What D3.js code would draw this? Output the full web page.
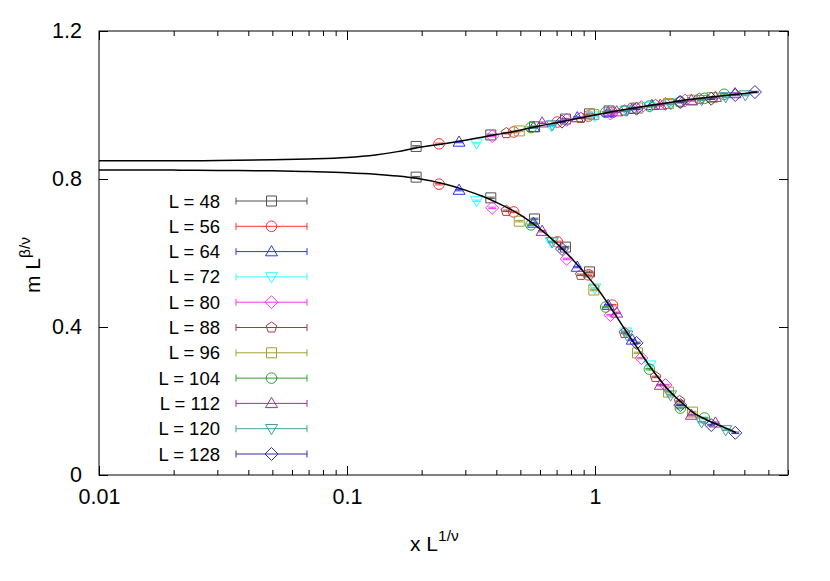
<!DOCTYPE html>
<html><head><meta charset="utf-8">
<script src="https://cdn.jsdelivr.net/npm/d3@7"></script>
<style>
body{margin:0;background:#fff}
text{font-family:"Liberation Sans",Arial,Helvetica,sans-serif;fill:#000}
</style>
</head><body>
<svg id="chart" width="830" height="581"></svg>
<script>
// ---------------- data ----------------
const sizes = [48, 56, 64, 72, 80, 88, 96, 104, 112, 120, 128];
const seriesColors = ["#505050", "#ff3030", "#3030ff", "#30ffff", "#ff30ff", "#a03c3c",
                      "#a0a030", "#30a030", "#a030a0", "#40a0a0", "#3030a0"];
const seriesShapes = ["square", "circle", "triUp", "triDown", "diamond", "pentagon",
                      "square", "circle", "triUp", "triDown", "diamond"];

// scaled variable x L^{1/nu} for each system size (upper branch uses all 6, lower branch first 5)
const xScaled = [
  [0.190, 0.380, 0.570, 0.760, 0.950, 1.140],
  [0.235, 0.470, 0.705, 0.940, 1.175, 1.410],
  [0.283, 0.565, 0.848, 1.130, 1.413, 1.696],
  [0.333, 0.665, 0.998, 1.330, 1.663, 1.995],
  [0.385, 0.769, 1.154, 1.538, 1.923, 2.307],
  [0.439, 0.877, 1.316, 1.754, 2.193, 2.632],
  [0.495, 0.989, 1.484, 1.978, 2.473, 2.967],
  [0.552, 1.105, 1.657, 2.209, 2.762, 3.314],
  [0.612, 1.223, 1.835, 2.447, 3.059, 3.670],
  [0.673, 1.346, 2.018, 2.691, 3.364, 4.037],
  [0.736, 1.471, 2.207, 2.942, 3.678, 4.413]
];
// m L^{beta/nu}, upper branch
const upperY = [
  [0.888, 0.919, 0.941, 0.962, 0.976, 0.984],
  [0.895, 0.927, 0.954, 0.970, 0.980, 0.991],
  [0.900, 0.940, 0.966, 0.980, 0.989, 0.999],
  [0.897, 0.944, 0.970, 0.985, 0.996, 1.005],
  [0.916, 0.960, 0.977, 0.994, 1.003, 1.012],
  [0.924, 0.965, 0.985, 1.000, 1.009, 1.017],
  [0.930, 0.974, 0.992, 1.004, 1.013, 1.020],
  [0.939, 0.980, 0.997, 1.008, 1.018, 1.029],
  [0.952, 0.982, 1.000, 1.013, 1.021, 1.031],
  [0.946, 0.986, 1.003, 1.014, 1.022, 1.027],
  [0.955, 0.990, 1.008, 1.017, 1.027, 1.035]
];
// m L^{beta/nu}, lower branch
const lowerY = [
  [0.805, 0.749, 0.692, 0.616, 0.549],
  [0.786, 0.711, 0.630, 0.541, 0.459],
  [0.770, 0.681, 0.562, 0.459, 0.365],
  [0.741, 0.630, 0.505, 0.386, 0.297],
  [0.722, 0.584, 0.432, 0.316, 0.243],
  [0.714, 0.541, 0.384, 0.265, 0.200],
  [0.686, 0.500, 0.330, 0.224, 0.170],
  [0.676, 0.454, 0.286, 0.181, 0.154],
  [0.659, 0.438, 0.243, 0.162, 0.141],
  [0.630, 0.378, 0.216, 0.143, 0.122],
  [0.611, 0.357, 0.189, 0.135, 0.114]
];
const errorSize = 0.002;

// scaling curves
const upperCurveX = [0.01, 0.02, 0.03, 0.05, 0.07, 0.1, 0.13, 0.16, 0.19, 0.25, 0.3, 0.35, 0.4, 0.5, 0.6, 0.7, 0.8, 1.0, 1.2, 1.5, 2.0, 2.5, 3.0, 3.5, 4.0, 4.5];
const upperCurveY = [0.849, 0.849, 0.850, 0.852, 0.854, 0.858, 0.865, 0.874, 0.884, 0.896, 0.905, 0.913, 0.920, 0.932, 0.944, 0.952, 0.960, 0.973, 0.983, 0.994, 1.007, 1.016, 1.022, 1.027, 1.031, 1.035];
const lowerCurveX = [0.01, 0.02, 0.03, 0.05, 0.07, 0.1, 0.13, 0.16, 0.19, 0.25, 0.3, 0.35, 0.4, 0.5, 0.6, 0.7, 0.8, 0.9, 1.0, 1.1, 1.2, 1.3, 1.4, 1.5, 1.6, 1.7, 1.8, 2.0, 2.2, 2.5, 2.8, 3.2, 3.7];
const lowerCurveY = [0.824, 0.824, 0.823, 0.822, 0.820, 0.817, 0.813, 0.808, 0.802, 0.786, 0.770, 0.754, 0.737, 0.703, 0.665, 0.626, 0.587, 0.549, 0.512, 0.474, 0.436, 0.400, 0.368, 0.338, 0.310, 0.285, 0.263, 0.226, 0.200, 0.168, 0.150, 0.133, 0.115];

const xTickValues = [0.01, 0.1, 1];
const yTickValues = [0, 0.4, 0.8, 1.2];

// ---------------- drawing ----------------
const svg = d3.select("#chart");
const x = d3.scaleLog().domain([0.01, 6]).range([99, 788]);
const y = d3.scaleLinear().domain([0, 1.2]).range([475, 31]);

const minorX = [];
[0.01, 0.1, 1].forEach(d => { for (let k = 2; k <= 9; k++) { const v = d * k; if (v <= 6) minorX.push(v); } });

function styleAxis(g) {
  g.select(".domain").remove();
  g.selectAll("line").attr("stroke", "#000").attr("stroke-width", 1);
  g.selectAll("text").style("font-family", '"Liberation Sans",Arial,sans-serif').style("font-size", "21.5px").attr("fill", "#000");
}

// bottom major + minor
svg.append("g").attr("transform", "translate(0,475)")
  .call(d3.axisBottom(x).tickValues(xTickValues).tickSizeInner(-9).tickSizeOuter(0).tickPadding(14).tickFormat(d3.format("")))
  .call(styleAxis);
svg.append("g").attr("transform", "translate(0,475)")
  .call(d3.axisBottom(x).tickValues(minorX).tickSizeInner(-5).tickSizeOuter(0).tickFormat(""))
  .call(styleAxis);
// top mirror
svg.append("g").attr("transform", "translate(0,31)")
  .call(d3.axisTop(x).tickValues(xTickValues).tickSizeInner(-9).tickSizeOuter(0).tickFormat(""))
  .call(styleAxis);
svg.append("g").attr("transform", "translate(0,31)")
  .call(d3.axisTop(x).tickValues(minorX).tickSizeInner(-5).tickSizeOuter(0).tickFormat(""))
  .call(styleAxis);
// left / right
svg.append("g").attr("transform", "translate(99,0)")
  .call(d3.axisLeft(y).tickValues(yTickValues).tickSizeInner(-9).tickSizeOuter(0).tickPadding(17).tickFormat(d => d === 0 ? "0" : d3.format(".1f")(d)))
  .call(styleAxis);
svg.append("g").attr("transform", "translate(788,0)")
  .call(d3.axisRight(y).tickValues(yTickValues).tickSizeInner(-9).tickSizeOuter(0).tickFormat(""))
  .call(styleAxis);

// frame
svg.append("rect").attr("x", 99).attr("y", 31).attr("width", 788 - 99).attr("height", 475 - 31)
  .attr("fill", "none").attr("stroke", "#000").attr("stroke-width", 1);

// marker paths
function markerPath(shape) {
  switch (shape) {
    case "square": return "M-5,-5H5V5H-5Z";
    case "circle": return "M5.3,0A5.3,5.3 0 1,1 -5.3,0A5.3,5.3 0 1,1 5.3,0Z";
    case "triUp": return "M0,-6L6,4.2H-6Z";
    case "triDown": return "M0,6L6,-4.2H-6Z";
    case "diamond": return "M0,-6.5L6.5,0L0,6.5L-6.5,0Z";
    case "pentagon": {
      const pts = d3.range(5).map(i => { const a = -Math.PI / 2 + i * 2 * Math.PI / 5; return [5.6 * Math.cos(a), 5.6 * Math.sin(a)]; });
      return "M" + pts.map(p => p[0].toFixed(2) + "," + p[1].toFixed(2)).join("L") + "Z";
    }
  }
}

const pts = svg.append("g");
sizes.forEach((L, i) => {
  const col = seriesColors[i];
  const data = [];
  xScaled[i].forEach((xv, k) => data.push([xv, upperY[i][k]]));
  lowerY[i].forEach((yv, k) => data.push([xScaled[i][k], yv]));
  const g = pts.append("g");
  data.forEach(d => {
    const px = x(d[0]), py = y(d[1]);
    const y1 = y(d[1] - errorSize), y2 = y(d[1] + errorSize);
    g.append("line").attr("x1", px).attr("x2", px).attr("y1", y1).attr("y2", y2).attr("stroke", col).attr("stroke-width", 1);
    g.append("line").attr("x1", px - 4).attr("x2", px + 4).attr("y1", y1).attr("y2", y1).attr("stroke", col).attr("stroke-width", 1);
    g.append("line").attr("x1", px - 4).attr("x2", px + 4).attr("y1", y2).attr("y2", y2).attr("stroke", col).attr("stroke-width", 1);
    g.append("path").attr("d", markerPath(seriesShapes[i])).attr("transform", `translate(${px},${py})`)
      .attr("fill", "none").attr("stroke", col).attr("stroke-width", 1);
  });
});

// curves
const line = d3.line().x(d => x(d[0])).y(d => y(d[1])).curve(d3.curveMonotoneX);
svg.append("path").attr("d", line(upperCurveX.map((v, i) => [v, upperCurveY[i]])))
  .attr("fill", "none").attr("stroke", "#000").attr("stroke-width", 1.5);
svg.append("path").attr("d", line(lowerCurveX.map((v, i) => [v, lowerCurveY[i]])))
  .attr("fill", "none").attr("stroke", "#000").attr("stroke-width", 1.5);

// legend
const leg = svg.append("g");
sizes.forEach((L, i) => {
  const cy = 201 + 25.3 * i;
  const col = seriesColors[i];
  leg.append("text").attr("x", 220).attr("y", cy + 6.5).attr("text-anchor", "end")
    .style("font-size", "18.5px").text("L = " + L);
  leg.append("line").attr("x1", 236).attr("x2", 307).attr("y1", cy).attr("y2", cy).attr("stroke", col).attr("stroke-width", 1);
  leg.append("line").attr("x1", 236).attr("x2", 236).attr("y1", cy - 3.5).attr("y2", cy + 3.5).attr("stroke", col).attr("stroke-width", 1);
  leg.append("line").attr("x1", 307).attr("x2", 307).attr("y1", cy - 3.5).attr("y2", cy + 3.5).attr("stroke", col).attr("stroke-width", 1);
  leg.append("path").attr("d", markerPath(seriesShapes[i])).attr("transform", `translate(271.5,${cy})`)
    .attr("fill", "none").attr("stroke", col).attr("stroke-width", 1);
});

// axis titles
const xt = svg.append("text").attr("x", 410).attr("y", 551).style("font-size", "21px");
xt.append("tspan").text("x L");
xt.append("tspan").attr("dy", -10).style("font-size", "15.5px").text("1/ν");

const yt = svg.append("text").attr("transform", "translate(40,293) rotate(-90)").style("font-size", "21px");
yt.append("tspan").text("m L");
yt.append("tspan").attr("dy", -10).style("font-size", "15.5px").text("β/ν");
</script>
</body></html>
